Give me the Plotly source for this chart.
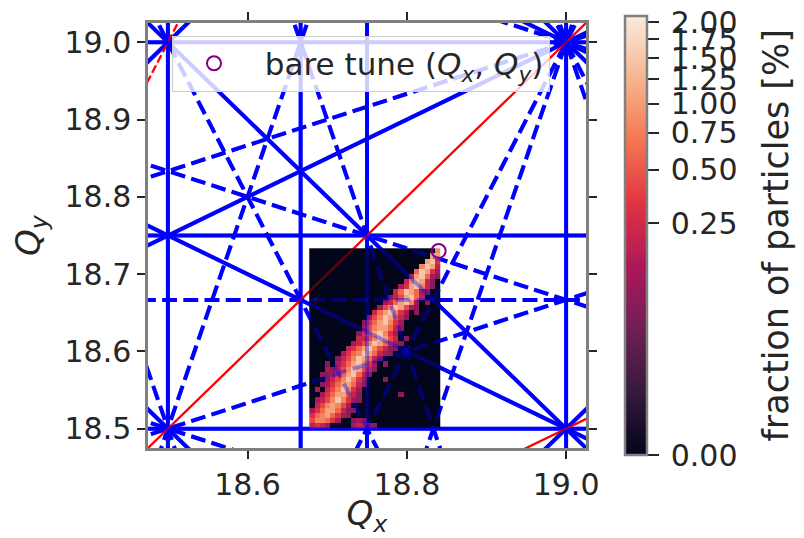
import numpy as np
import plotly.graph_objects as go
from fractions import Fraction
from math import gcd

# ---------------- data ----------------
QX_LIM = [18.475, 19.025]
QY_LIM = [18.475, 19.025]
MAX_ORDER = 4          # resonance orders drawn
INTEGER_TUNE = 18      # resonances through (18, 18) are drawn in red

bare_tune_qx = [18.84]
bare_tune_qy = [18.73]

x_ticks = [18.6, 18.8, 19.0]
y_ticks = [18.5, 18.6, 18.7, 18.8, 18.9, 19.0]
cbar_ticks = [0.0, 0.25, 0.5, 0.75, 1.0, 1.25, 1.5, 1.75, 2.0]

# tune footprint histogram (fraction of particles in %)
hist_qx_start = 18.6775
hist_qy_start = 18.500
hist_bin_qx = 0.0066
hist_bin_qy = 0.00667
level_values = {'.': 0.0, '1': 0.06, '2': 0.12, '3': 0.2, '4': 0.3, '5': 0.42,
                '6': 0.6, '7': 0.8, '8': 1.05, '9': 1.5}
# rows listed from top (high Qy) to bottom, 25 columns each
hist_rows = [
    "........................7",
    ".......................88",
    "......................894",
    ".....................7983",
    "....................69842",
    "...................389621",
    "..................379831.",
    ".................2489731.",
    "................3698621..",
    "...............1358963...",
    "..............2368972.1..",
    ".............25798521....",
    "............3689742.1....",
    "...........25798631......",
    "..........14689742.......",
    "..........25788631.......",
    ".........14689742........",
    ".........33579853.1......",
    "........2357986421.......",
    ".......3468975311........",
    "......2467986321.........",
    ".....135798631...........",
    "...1.24689742.1..........",
    "...2135798531............",
    "..1124689631.............",
    "...13579742...1..........",
    "..124688631..............",
    ".2.3579742...............",
    "..24688631.......1.......",
    ".235797421...............",
    ".3578752.................",
    "246886311................",
    "46786421.................",
    "577642..121..............",
    "3432....23321............",
]
NORM_VMAX = 2.1
NORM_GAMMA = 0.3

rocket = [[0.0, '#03051A'], [1 / 7, '#35193e'], [2 / 7, '#701f57'], [3 / 7, '#ad1759'],
          [4 / 7, '#e13342'], [5 / 7, '#f37651'], [6 / 7, '#f6b48f'], [1.0, '#FAEBDD']]

TEXT = '#262626'
FONT = 'DejaVu Sans'
FS_TICK = 30
FS_LABEL = 34

# ---------------- histogram ----------------
z = np.array([[level_values[c] for c in r.ljust(25, '.')[:25]] for r in hist_rows[::-1]])
z_norm = np.clip(z / NORM_VMAX, 0, 1) ** NORM_GAMMA

fig = go.Figure()

fig.add_trace(go.Heatmap(
    z=z_norm, x0=hist_qx_start + hist_bin_qx / 2, dx=hist_bin_qx,
    y0=hist_qy_start + hist_bin_qy / 2, dy=hist_bin_qy,
    colorscale=rocket, zmin=0, zmax=1, showscale=True, hoverinfo='skip',
    colorbar=dict(
        x=(625 - 148) / 438, xanchor='left', xpad=0, y=0.5, yanchor='middle', ypad=0,
        len=439, lenmode='pixels', thickness=22, thicknessmode='pixels',
        outlinecolor='#808080', outlinewidth=2.5,
        tickvals=[(v / NORM_VMAX) ** NORM_GAMMA for v in cbar_ticks],
        ticktext=[f"\u2009{v:.2f}" for v in cbar_ticks],
        ticks='outside', ticklen=11, tickwidth=2, tickcolor=TEXT,
        tickfont=dict(size=FS_TICK, color=TEXT, family=FONT),
    ),
))

# ---------------- resonance lines ----------------
EXT = [18.2, 19.3]
res = {}
for m in range(0, MAX_ORDER + 1):
    for n in range(-MAX_ORDER, MAX_ORDER + 1):
        if m == 0 and n <= 0:
            continue
        if abs(m) + abs(n) > MAX_ORDER:
            continue
        vals = [m * x + n * y for x in QX_LIM for y in QY_LIM]
        for p in range(int(np.floor(min(vals))), int(np.ceil(max(vals))) + 1):
            if not (min(vals) <= p <= max(vals)):
                continue
            g = gcd(m, abs(n))
            key = (Fraction(m, g), Fraction(n, g), Fraction(p, g))
            solid = (n % 2 == 0)
            red = (p == INTEGER_TUNE * (m + n))
            if key in res:
                res[key]['solid'] = res[key]['solid'] or solid
            else:
                res[key] = dict(m=m, n=n, p=p, solid=solid, red=red)


def endpoints(m, n, p):
    if abs(n) >= abs(m):
        xs = np.array(EXT)
        ys = (p - m * xs) / n
    else:
        ys = np.array(EXT)
        xs = (p - n * ys) / m
    return list(xs), list(ys)


ordered = sorted(res.values(), key=lambda r: r['red'])
shapes = []
for r in ordered:
    xs, ys = endpoints(r['m'], r['n'], r['p'])
    w = 2.2 if r['red'] else 4
    col = 'red' if r['red'] else 'blue'
    dash = 'solid' if r['solid'] else f"{3.7 * w:.1f}px,{1.6 * w:.1f}px"
    # opaque copy under the histogram
    shapes.append(dict(type='line', xref='x', yref='y', x0=xs[0], y0=ys[0], x1=xs[1], y1=ys[1],
                       line=dict(color=col, width=w, dash=dash), layer='below'))
    # translucent copy over the histogram
    fig.add_trace(go.Scatter(x=xs, y=ys, mode='lines', opacity=0.36, showlegend=False,
                             hoverinfo='skip', line=dict(color=col, width=w, dash=dash)))

fig.add_trace(go.Scatter(
    x=bare_tune_qx, y=bare_tune_qy, mode='markers',
    marker=dict(symbol='circle-open', size=14, color='purple', line=dict(width=2, color='purple')),
    name='\u00a0bare tune (<i>Q</i><sub><i>x</i></sub>, <i>Q</i><sub><i>y</i></sub>)',
    showlegend=True,
))

axis_common = dict(showline=True, linecolor='#808080', linewidth=2.5, mirror='ticks',
                   ticks='outside', ticklen=8, tickwidth=2, tickcolor=TEXT,
                   tickfont=dict(size=FS_TICK, color=TEXT, family=FONT),
                   showgrid=False, zeroline=False)

fig.update_layout(
    width=804, height=538,
    margin=dict(l=148, r=218, t=14, b=85),
    paper_bgcolor='white', plot_bgcolor='white',
    font=dict(family=FONT, color=TEXT, size=FS_TICK),
    shapes=shapes,
    xaxis=dict(range=QX_LIM, tickvals=x_ticks, ticktext=[f"{v:.1f}" for v in x_ticks],
               title=dict(text='<i>Q</i><sub><i>x</i></sub>', font=dict(size=FS_LABEL, color=TEXT), standoff=0),
               **axis_common),
    yaxis=dict(range=QY_LIM, tickvals=y_ticks, ticktext=[f"{v:.1f}" for v in y_ticks],
               title=dict(text='<i>Q</i><sub><i>y</i></sub>', font=dict(size=FS_LABEL, color=TEXT), standoff=14),
               **axis_common),
    legend=dict(x=(172 - 148) / 438, y=1 - (27 - 14) / 439, xanchor='left', yanchor='top',
                bgcolor='rgba(255,255,255,0.8)', bordercolor='#cccccc', borderwidth=1,
                font=dict(size=31, color=TEXT, family=FONT), itemwidth=72),
    annotations=[dict(text='fraction of particles [%]', xref='paper', yref='paper',
                      x=(775 - 148) / 438, y=0.5, textangle=-90, showarrow=False,
                      xanchor='center', yanchor='middle', font=dict(size=35, color=TEXT))],
)

fig.write_html("out.html")
